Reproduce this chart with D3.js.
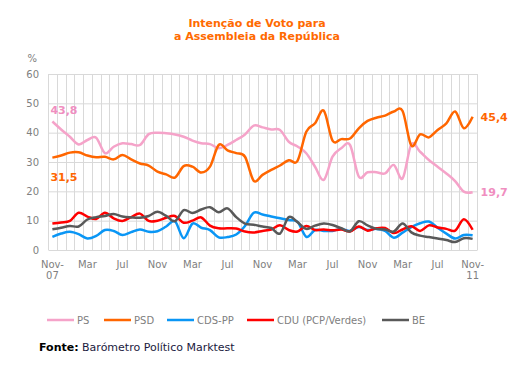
<!DOCTYPE html>
<html>
<head>
<meta charset="utf-8">
<script src="https://cdn.jsdelivr.net/npm/d3@7"></script>
<style>
  body { margin: 0; background: #fff; }
  text { font-family: "DejaVu Sans", Verdana, sans-serif; }
</style>
</head>
<body>
<div id="chart"></div>
<script>
// monthly barometer, Nov-07 .. Nov-11
const months = d3.timeMonth.range(new Date(2007, 10, 1), new Date(2011, 11, 1));
const tickLabels = ["Nov-|07", "Mar", "Jul", "Nov", "Mar", "Jul", "Nov", "Mar", "Jul", "Nov", "Mar", "Jul", "Nov-|11"];
const yTicks = [0, 10, 20, 30, 40, 50, 60];

const ps = [43.8, 41.1, 38.6, 36.0, 37.5, 38.3, 33.0, 35.2, 36.4, 36.1, 35.8, 39.5, 40.0, 39.8, 39.4, 38.6, 37.3,
  36.4, 36.1, 34.7, 35.8, 37.5, 39.4, 42.4, 41.8, 41.1, 40.9, 36.9, 35.3, 33.0, 28.4, 23.9, 31.8, 34.7,
  35.8, 25.0, 26.5, 26.5, 26.1, 29.0, 24.4, 36.0, 33.5, 30.7, 28.4, 26.1, 23.5, 19.9, 19.7];
const psd = [31.5, 32.2, 33.2, 33.3, 32.2, 31.6, 31.8, 30.9, 32.4, 30.9, 29.5, 28.8, 26.7, 25.8, 24.7, 28.6, 28.4,
  26.4, 28.4, 35.8, 34.0, 33.0, 31.8, 23.6, 25.6, 27.3, 28.8, 30.6, 30.4, 40.3, 43.2, 47.5, 37.3, 37.8,
  38.0, 41.5, 44.0, 45.1, 45.8, 47.2, 47.4, 35.6, 39.4, 38.4, 40.9, 43.2, 47.2, 41.5, 45.4];
const cds = [4.5, 5.6, 6.2, 5.4, 3.9, 4.8, 6.8, 6.5, 5.1, 6.1, 7.0, 6.2, 6.4, 8.0, 9.8, 4.0, 9.0,
  7.6, 6.8, 4.3, 4.4, 5.3, 8.2, 12.7, 12.1, 11.4, 10.8, 10.2, 9.6, 4.5, 6.8, 6.5, 6.5, 7.2,
  6.5, 7.8, 6.8, 7.2, 6.5, 4.2, 5.9, 7.8, 9.1, 9.7, 7.6, 5.6, 3.9, 5.1, 5.0];
const cdu = [9.0, 9.4, 9.9, 12.7, 11.4, 10.6, 12.7, 10.8, 9.9, 11.2, 12.4, 9.9, 10.0, 11.0, 11.6, 9.3, 10.0,
  11.1, 8.3, 7.4, 7.4, 7.3, 6.3, 6.0, 6.5, 7.0, 8.4, 6.8, 6.3, 8.2, 6.8, 7.0, 6.7, 7.0,
  6.3, 8.0, 6.6, 7.4, 7.5, 5.8, 7.0, 8.1, 6.5, 8.4, 7.7, 7.2, 6.6, 10.5, 6.9];
const be = [7.1, 7.6, 8.2, 8.0, 10.4, 11.2, 11.6, 12.3, 11.4, 11.1, 11.0, 11.6, 13.0, 11.6, 9.8, 13.6, 12.6,
  13.8, 14.6, 12.9, 14.2, 11.2, 9.0, 8.6, 8.0, 7.5, 5.6, 11.2, 9.5, 7.2, 8.3, 9.0, 8.5, 7.4,
  6.4, 9.8, 8.4, 7.2, 7.0, 6.3, 9.0, 6.0, 4.9, 4.4, 3.9, 3.4, 2.7, 4.0, 3.8];

const seriesNames = ["PS", "PSD", "CDS-PP", "CDU (PCP/Verdes)", "BE"];
const seriesValues = [ps, psd, cds, cdu, be];
const seriesColors = ["#F5A3C9", "#FF6600", "#0A96F5", "#FF0000", "#595959"];

const width = 523, height = 365;
const plotLeft = 48, plotRight = 477, plotTop = 74, plotBottom = 250;

const svg = d3.select("#chart").append("svg")
  .attr("width", width)
  .attr("height", height);

const x = d3.scaleBand()
  .domain(months)
  .range([plotLeft, plotRight]);
const y = d3.scaleLinear()
  .domain([0, 60])
  .range([plotBottom, plotTop]);
const cx = d => x(d) + x.bandwidth() / 2;

// title
svg.append("text")
  .attr("x", 257)
  .attr("y", 27)
  .attr("text-anchor", "middle")
  .style("font-size", "11px")
  .style("font-weight", "bold")
  .style("fill", "#FF6A00")
  .selectAll("tspan")
  .data(["Intenção de Voto para", "a Assembleia da República"])
  .join("tspan")
  .attr("x", 257)
  .attr("dy", (d, i) => i ? 13 : 0)
  .text(d => d);

// vertical grid: one line per month boundary
svg.append("g")
  .selectAll("line")
  .data(months.map(m => x(m)).concat([plotRight]))
  .join("line")
  .attr("x1", d => Math.round(d) + 0.5)
  .attr("x2", d => Math.round(d) + 0.5)
  .attr("y1", plotTop)
  .attr("y2", plotBottom)
  .attr("stroke", "#D9D9D9");

// y axis + horizontal grid
const yAxis = svg.append("g")
  .attr("transform", `translate(${plotLeft},0)`)
  .call(d3.axisLeft(y).tickValues(yTicks).tickSize(plotLeft - plotRight).tickPadding(9));
yAxis.select(".domain").remove();
yAxis.selectAll(".tick line")
  .attr("stroke", "#D9D9D9")
  .attr("transform", "translate(0.5,0)");
yAxis.selectAll(".tick text")
  .style("font-size", "10px")
  .style("fill", "#808080")
  .attr("font-family", null);

svg.append("text")
  .attr("x", 37)
  .attr("y", 62)
  .attr("text-anchor", "end")
  .style("font-size", "10px")
  .style("fill", "#808080")
  .text("%");

// x axis labels every 4 months
const tickMonths = months.filter((m, i) => i % 4 === 0);
const xAxis = svg.append("g")
  .attr("transform", `translate(0,${plotBottom})`)
  .call(d3.axisBottom(x).tickValues(tickMonths).tickSize(0).tickFormat((d, i) => tickLabels[i]));
xAxis.select(".domain").remove();
xAxis.selectAll(".tick text").each(function(d, i) {
  const parts = tickLabels[i].split("|");
  const t = d3.select(this).text(null)
    .attr("y", 18)
    .attr("dy", null)
    .style("font-size", "10px")
    .style("fill", "#808080")
    .attr("font-family", null);
  parts.forEach((p, k) => t.append("tspan").attr("x", 0).attr("dy", k ? 11 : 0).text(p));
});

// series
const line = d3.line()
  .x((d, i) => cx(months[i]))
  .y(d => y(d))
  .curve(d3.curveCatmullRom.alpha(0));

svg.append("g")
  .selectAll("path")
  .data(seriesValues)
  .join("path")
  .attr("d", d => line(d))
  .attr("fill", "none")
  .attr("stroke", (d, i) => seriesColors[i])
  .attr("stroke-width", 2.5)
  .attr("stroke-linejoin", "round");

// end labels
const labels = [
  { v: ps[0], i: 0, color: "#F08EC0", dx: -2, dy: -8 },
  { v: psd[0], i: 0, color: "#FF6600", dx: -2, dy: 23 },
  { v: psd[48], i: 48, color: "#FF6600", dx: 8, dy: 4 },
  { v: ps[48], i: 48, color: "#F08EC0", dx: 8, dy: 4 }
];
svg.append("g")
  .selectAll("text")
  .data(labels)
  .join("text")
  .attr("x", d => cx(months[d.i]) + d.dx)
  .attr("y", d => y(d.v) + d.dy)
  .style("font-size", "11px")
  .style("font-weight", "bold")
  .style("fill", d => d.color)
  .text(d => d3.format(".1f")(d.v).replace(".", ","));

// legend
const legendX = [47, 104, 167, 247, 382];
const legend = svg.append("g")
  .selectAll("g")
  .data(seriesNames)
  .join("g")
  .attr("transform", (d, i) => `translate(${legendX[i]},320)`);
legend.append("line")
  .attr("x1", 0).attr("x2", 27)
  .attr("stroke", (d, i) => seriesColors[i])
  .attr("stroke-width", 2.5);
legend.append("text")
  .attr("x", 30)
  .attr("y", 4)
  .style("font-size", "10px")
  .style("fill", "#808080")
  .text(d => d);

// source
const src = svg.append("text")
  .attr("x", 39)
  .attr("y", 351)
  .style("font-size", "11px");
src.append("tspan").style("font-weight", "bold").style("fill", "#000").text("Fonte:");
src.append("tspan").style("fill", "#1A1A40").text(" Barómetro Político Marktest");
</script>
</body>
</html>
